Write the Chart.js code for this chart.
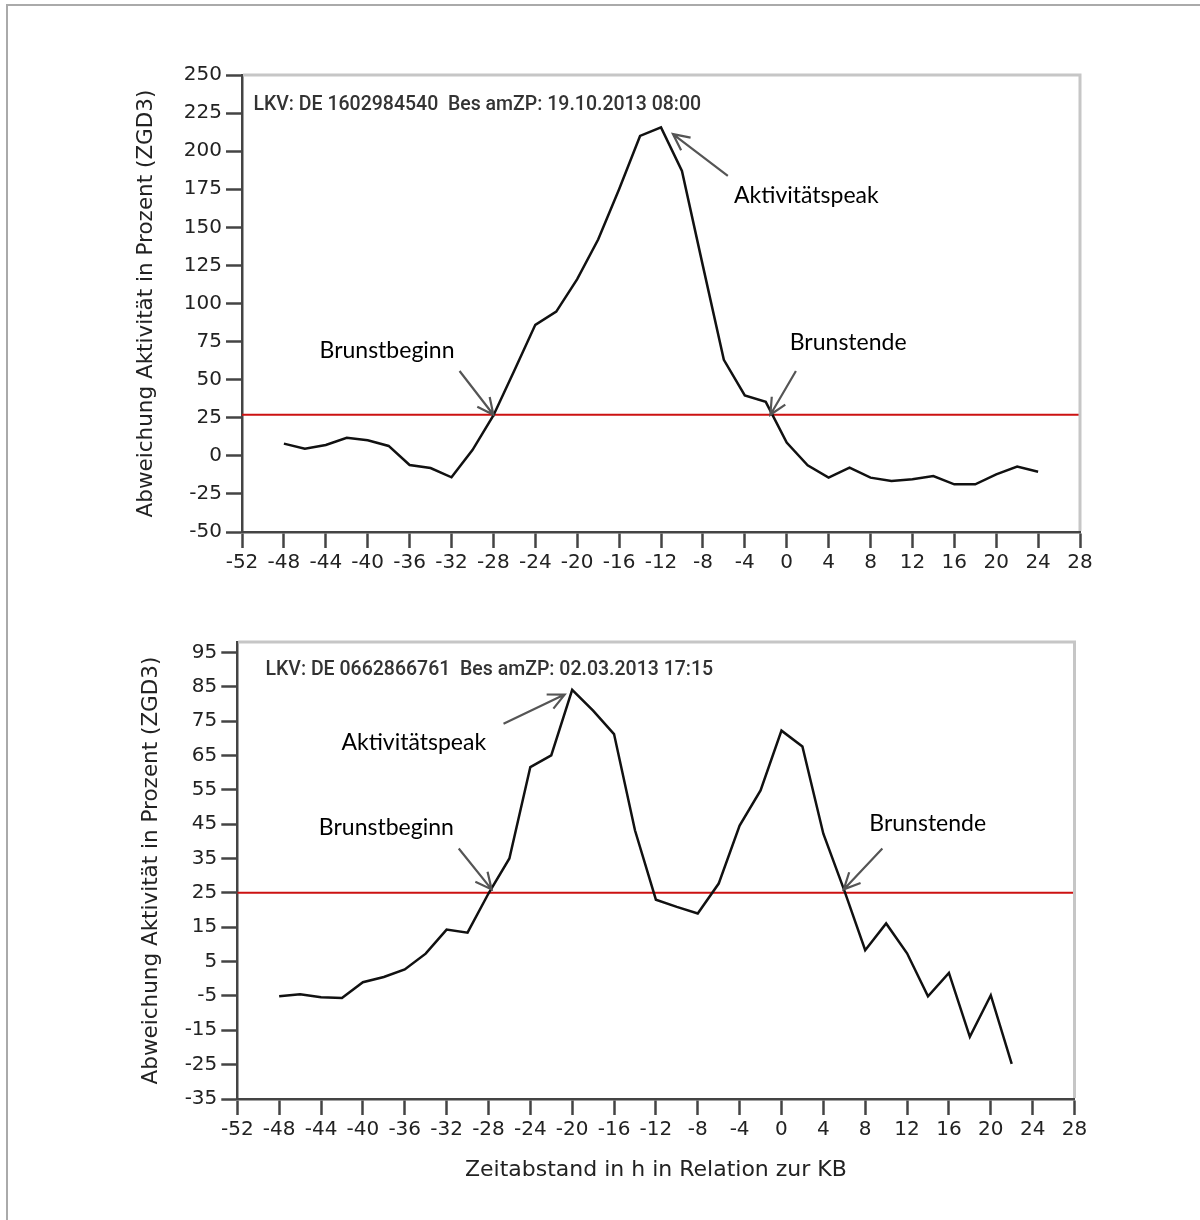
<!DOCTYPE html>
<html>
<head>
<meta charset="utf-8">
<title>Aktivitaet Brunst</title>
<script src="https://cdn.jsdelivr.net/npm/chart.js@4.4.1/dist/chart.umd.min.js"></script>
<style>
  body { margin: 0; background: #fff; }
  #frame { position: absolute; left: 6px; top: 4px; width: 1194px; height: 1216px;
           border-left: 2px solid #aaa; border-top: 2px solid #aaa; box-sizing: border-box; }
  .box { position: absolute; left: 0; width: 1200px; }
</style>
</head>
<body>
<div id="frame"></div>
<div class="box" style="top:0px;height:600px"><canvas id="chartTop" width="1200" height="600"></canvas></div>
<div class="box" style="top:600px;height:620px"><canvas id="chartBottom" width="1200" height="620"></canvas></div>
<script>
// top chart: DE 1602984540
const hoursTop = [-48, -46, -44, -42, -40, -38, -36, -34, -32, -30, -28, -26, -24, -22, -20, -18, -16, -14, -12,
  -10, -8, -6, -4, -2, 0, 2, 4, 6, 8, 10, 12, 14, 16, 18, 20, 22, 24];
const activityTop = [8, 4.7, 7.1, 11.9, 10.2, 6.5, -6, -8, -14.1, 3.8, 26.5, 56, 86, 94.7, 116, 142, 175, 210, 215.6,
  187, 124.7, 63, 39.7, 35.4, 8.7, -6.2, -14.3, -7.8, -14.3, -16.5, -15.4, -13.3, -18.7, -18.7, -12.2, -7.1, -10.4];
const thresholdTop = 27;
const yTicksTop = [-50, -25, 0, 25, 50, 75, 100, 125, 150, 175, 200, 225, 250];

// bottom chart: DE 0662866761
const hoursBottom = [-48, -46, -44, -42, -40, -38, -36, -34, -32, -30, -28, -26, -24, -22, -20, -18, -16, -14, -12,
  -10, -8, -6, -4, -2, 0, 2, 4, 6, 8, 10, 12, 14, 16, 18, 20, 22];
const activityBottom = [-5.1, -4.5, -5.4, -5.6, -1.0, 0.5, 2.7, 7.3, 14.3, 13.4, 24.8, 35.0, 61.6, 65.0, 84.1, 78.0,
  71.2, 43.2, 23.0, 20.9, 19.0, 27.7, 44.6, 54.8, 72.2, 67.6, 42.2, 25.7, 8.3, 16.1, 7.4, -5.1, 1.7, -16.9, -4.8, -24.8];
const thresholdBottom = 25;
const yTicksBottom = [-35, -25, -15, -5, 5, 15, 25, 35, 45, 55, 65, 75, 85, 95];

// shared x axis
const xMin = -52;
const xMax = 28;
const xStep = 4;

const tickFont = { family: "DejaVu Sans", size: 20 };
const titleFont = { family: "DejaVu Sans", size: 21.5 };

// text + arrows, positions in data units
const notesTop = [
  { text: "LKV: DE 1602984540  Bes amZP: 19.10.2013 08:00", x: -50.91, y: 230, small: true },
  { text: "Aktivitätspeak", x: -5.03, y: 170.7, from: [-5.62, 183.8], to: [-10.86, 211.2] },
  { text: "Brunstbeginn", x: -44.6, y: 68.9, from: [-31.23, 55.7], to: [-28, 27] },
  { text: "Brunstende", x: 0.29, y: 74.4, from: [0.88, 55.7], to: [-1.56, 27] },
];
const notesBottom = [
  { text: "LKV: DE 0662866761  Bes amZP: 02.03.2013 17:15", x: -49.31, y: 89.9, small: true },
  { text: "Aktivitätspeak", x: -42.05, y: 68.85, from: [-26.56, 74.2], to: [-20.72, 82.7] },
  { text: "Brunstbeginn", x: -44.21, y: 43.97, from: [-30.84, 37.9], to: [-27.7, 26] },
  { text: "Brunstende", x: 8.39, y: 45.3, from: [9.64, 37.9], to: [5.95, 26] },
];

// draws the light frame, texts and arrows
function notesPlugin(notes) {
  return {
    id: "notes",
    afterDraw(chart) {
      const { ctx, chartArea } = chart;
      const xs = chart.scales.x;
      const ys = chart.scales.y;
      ctx.save();
      ctx.strokeStyle = "#c6c6c6";
      ctx.lineWidth = 3;
      ctx.beginPath();
      ctx.moveTo(chartArea.left + 1, chartArea.top);
      ctx.lineTo(chartArea.right, chartArea.top);
      ctx.lineTo(chartArea.right, chartArea.bottom - 1);
      ctx.stroke();

      notes.forEach((n) => {
        ctx.textAlign = "left";
        ctx.textBaseline = "middle";
        if (n.small) {
          ctx.font = "500 19.5px Roboto";
          ctx.fillStyle = "#333";
        } else {
          ctx.font = "23px Lato";
          ctx.fillStyle = "#000";
        }
        ctx.fillText(n.text, xs.getPixelForValue(n.x), ys.getPixelForValue(n.y));
        if (n.from) {
          const x1 = xs.getPixelForValue(n.from[0]);
          const y1 = ys.getPixelForValue(n.from[1]);
          const x2 = xs.getPixelForValue(n.to[0]);
          const y2 = ys.getPixelForValue(n.to[1]);
          const a = Math.atan2(y2 - y1, x2 - x1);
          const head = 18;
          ctx.strokeStyle = "#555";
          ctx.lineWidth = 2.2;
          ctx.beginPath();
          ctx.moveTo(x1, y1);
          ctx.lineTo(x2, y2);
          ctx.moveTo(x2 - head * Math.cos(a - 0.45), y2 - head * Math.sin(a - 0.45));
          ctx.lineTo(x2, y2);
          ctx.lineTo(x2 - head * Math.cos(a + 0.45), y2 - head * Math.sin(a + 0.45));
          ctx.stroke();
        }
      });
      ctx.restore();
    },
  };
}

function makeChart(id, hours, values, threshold, yTicks, yMax, box) {
  const points = hours.map((h, i) => ({ x: h, y: values[i] }));
  const config = {
    type: "line",
    data: {
      datasets: [
        {
          data: points,
          borderColor: "#111",
          borderWidth: 2.5,
          pointRadius: 0,
          tension: 0,
        },
        {
          data: [{ x: xMin, y: threshold }, { x: xMax, y: threshold }],
          borderColor: "#cc1111",
          borderWidth: 2,
          pointRadius: 0,
        },
      ],
    },
    options: {
      responsive: false,
      animation: false,
      events: [],
      layout: { padding: { top: box.top, right: box.right, left: 0, bottom: 0 } },
      plugins: { legend: { display: false }, tooltip: { enabled: false } },
      scales: {
        x: {
          type: "linear",
          min: xMin,
          max: xMax,
          ticks: { stepSize: xStep, font: tickFont, color: "#222", padding: 3, maxRotation: 0, autoSkip: false },
          grid: { drawOnChartArea: false, drawTicks: true, tickLength: 16, tickWidth: 2.5, tickColor: "#444" },
          border: { color: "#444", width: 2.5 },
          title: {
            display: !!box.xTitle,
            text: box.xTitle || "",
            font: { family: "DejaVu Sans", size: 22 },
            color: "#222",
            padding: { top: 0, bottom: 37 },
          },
          afterFit: (axis) => { axis.height = box.xHeight; },
        },
        y: {
          type: "linear",
          min: yTicks[0],
          max: yMax,
          afterBuildTicks: (axis) => { axis.ticks = yTicks.map((v) => ({ value: v })); },
          ticks: { font: tickFont, color: "#222", padding: 4 },
          grid: { drawOnChartArea: false, drawTicks: true, tickLength: 16, tickWidth: 2.5, tickColor: "#444" },
          border: { color: "#444", width: 2.5 },
          title: {
            display: true,
            text: "Abweichung Aktivität in Prozent (ZGD3)",
            font: titleFont,
            color: "#222",
            padding: { top: box.titleX - 12.9, bottom: 0 },
          },
          afterFit: (axis) => { axis.width = box.left; },
        },
      },
    },
    plugins: [notesPlugin(box.notes)],
  };
  return new Chart(document.getElementById(id), config);
}

const topChart = makeChart("chartTop", hoursTop, activityTop, thresholdTop, yTicksTop, 250,
  { top: 75, right: 120, left: 242, xHeight: 68, titleX: 146, notes: notesTop });

const bottomChart = makeChart("chartBottom", hoursBottom, activityBottom, thresholdBottom, yTicksBottom, 98,
  { top: 42, right: 125.5, left: 237.3, xHeight: 121, titleX: 151, notes: notesBottom,
    xTitle: "Zeitabstand in h in Relation zur KB" });
</script>
</body>
</html>
